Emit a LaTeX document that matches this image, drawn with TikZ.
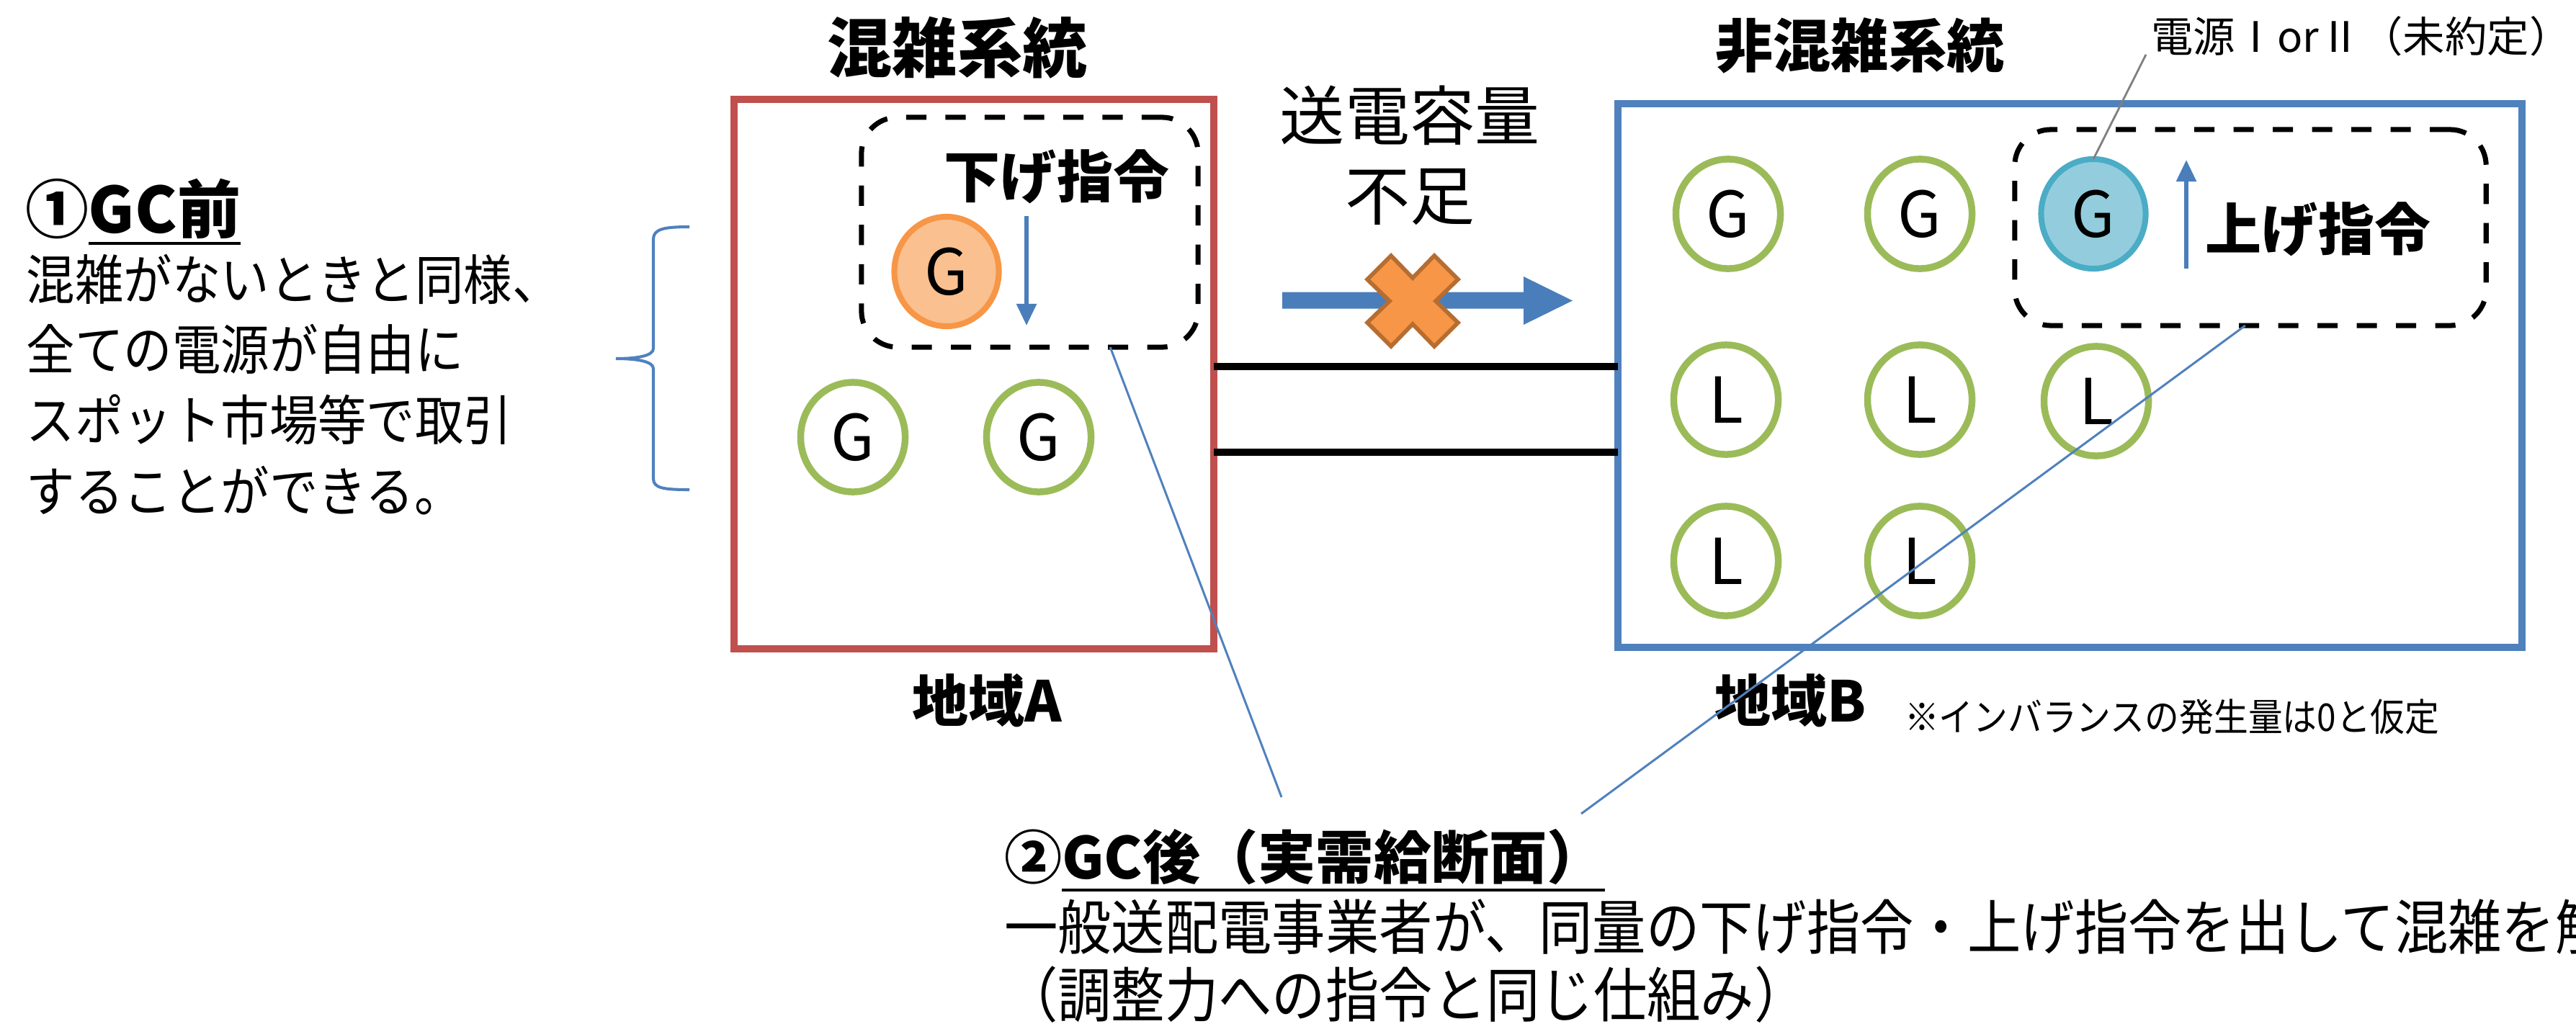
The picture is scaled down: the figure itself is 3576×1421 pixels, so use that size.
\documentclass[tikz,border=0pt]{standalone}
\usepackage{fontspec}
\newfontfamily\jp{Noto Sans CJK JP}
\newfontfamily\jpn{Noto Sans CJK JP}[FakeStretch=0.9]
\usetikzlibrary{shapes.geometric,arrows.meta,calc}
\definecolor{redc}{HTML}{C0504D}
\definecolor{bluec}{HTML}{4F81BD}
\definecolor{arrowc}{HTML}{4A7EBB}
\definecolor{greenc}{HTML}{9BBB59}
\definecolor{orangec}{HTML}{F79646}
\definecolor{orangefill}{HTML}{FAC08F}
\definecolor{cyanc}{HTML}{4BACC6}
\definecolor{cyanfill}{HTML}{93CDDD}
\definecolor{xstroke}{HTML}{B66D31}
\definecolor{grayc}{HTML}{808080}
\newcommand{\fs}[1]{\fontsize{#1}{#1}\selectfont}
\begin{document}
\begin{tikzpicture}[x=0.01cm,y=-0.01cm,
  txt/.style={inner sep=0pt,outer sep=0pt},
  areabox/.style={draw,line width=2.85pt,inner sep=0pt,outer sep=0pt},
  groupbox/.style={draw=black,line width=2pt,dash pattern=on 8pt off 7.5pt,rounded corners=0.5cm,inner sep=0pt,outer sep=0pt},
  ring/.style={ellipse,draw=greenc,fill=white,line width=2.7pt,minimum width=1.45cm,minimum height=1.52cm,inner sep=0pt,outer sep=0pt,font=\jp\fs{25}},
  hot/.style={ring,draw=orangec,fill=orangefill,line width=2.3pt},
  cool/.style={ring,draw=cyanc,fill=cyanfill,line width=2.3pt},
  order/.style={draw=arrowc,line width=1.6pt,-{Triangle[width=0.27cm,length=0.30cm]}},
  title/.style={txt,font=\jp\bfseries\fs{25.6}},
  leader/.style={draw=bluec,line width=0.85pt},
  trans/.style={draw=black,line width=2.85pt}
]
\useasboundingbox (0,0) rectangle (3576,1421);
\clip (0,0) rectangle (3576,1421);

% ---- left explanation ----
\node[txt,anchor=west,font=\jp\bfseries\fs{25}] (h1n) at (35,290) {①};
\node[txt,anchor=west,font=\jp\bfseries\fs{25}] (h1t) at (h1n.east) {GC前};
\draw[line width=1.2pt] ($(h1t.south west)+(0,6)$) -- ($(h1t.south east)+(0,6)$);
\node[txt,anchor=west,font=\jpn\fs{21.3}] (b1) at (37,388) {混雑がないときと同様、};
\node[txt,anchor=west,font=\jpn\fs{21.3}] (b2) at (37,485) {全ての電源が自由に};
\node[txt,anchor=west,font=\jpn\fs{21.3}] (b3) at (37,583) {スポット市場等で取引};
\node[txt,anchor=west,font=\jpn\fs{21.3}] (b4) at (37,681) {することができる。};
\draw[draw=bluec,line width=1.15pt]
  (957,315) .. controls (922,315) and (907,318) .. (907,332) -- (907,484)
  .. controls (907,494) and (885,498) .. (855,498)
  .. controls (885,498) and (907,502) .. (907,512) -- (907,665)
  .. controls (907,678) and (922,680) .. (957,680);

% ---- area boxes ----
\node[areabox,draw=redc,minimum width=6.66cm,minimum height=7.63cm] (boxA) at (1352,519.5) {};
\node[areabox,draw=bluec,minimum width=12.55cm,minimum height=7.55cm] (boxB) at (2873.5,521.5) {};
\node[title] (tA) at (1329,66) {混雑系統};
\node[title,font=\jp\bfseries\fs{22.8}] (tB) at (2582,63) {非混雑系統};
\node[txt,font=\jp\bfseries\fs{22.2}] (lA) at (1370,973) {地域A};
\node[txt,font=\jp\bfseries\fs{22.2}] (lB) at (2486,973) {地域B};
\node[txt,anchor=west,font=\jpn\fs{15.1}] (note) at (2644,995) {※インバランスの発生量は0と仮定};

% ---- transmission lines ----
\coordinate (y1) at (0,509);
\coordinate (y2) at (0,628);
\draw[trans] (boxA.east |- y1) -- (boxB.west |- y1);
\draw[trans] (boxA.east |- y2) -- (boxB.west |- y2);

% ---- capacity shortage ----
\node[txt,font=\jp\fs{25.6}] (cap1) at (1957,160) {送電容量};
\node[txt,font=\jp\fs{25.6}] (cap2) at (1957,273) {不足};
\fill[arrowc] (1780,405.5) -- (2115,405.5) -- (2115,384) -- (2183,417.5) -- (2115,451) -- (2115,428.5) -- (1780,428.5) -- cycle;
\filldraw[fill=orangec,draw=xstroke,line width=1.6pt,shift={(1961,418)}]
  (0,-32) -- (30,-63) -- (63,-30) -- (32,0) -- (63,30) -- (30,63) -- (0,32)
  -- (-30,63) -- (-63,30) -- (-32,0) -- (-63,-30) -- (-30,-63) -- cycle;

% ---- area A contents ----
\node[groupbox,minimum width=4.67cm,minimum height=3.19cm] (dA) at (1429.5,322.5) {};
\node[txt,font=\jp\bfseries\fs{22.2}] (down) at (1467,245) {下げ指令};
\node[hot] (gA0) at (1314,377) {G};
\coordinate (dn1) at (1425,300);
\coordinate (dn2) at (1425,452);
\draw[order] (dn1) -- (dn2);
\node[ring] (gA1) at (1184,607) {G};
\node[ring] (gA2) at (1442,607) {G};

% ---- area B contents ----
\node[groupbox,minimum width=6.54cm,minimum height=2.72cm] (dB) at (3124,316) {};
\node[ring] (gB1) at (2399,297) {G};
\node[ring] (gB2) at (2665,297) {G};
\node[cool] (gB3) at (2906,297) {G};
\coordinate (up1) at (3035,373);
\coordinate (up2) at (3035,222);
\draw[order] (up1) -- (up2);
\node[txt,font=\jp\bfseries\fs{22.2}] (up) at (3218,318) {上げ指令};
\node[ring] (lB1) at (2396,555) {L};
\node[ring] (lB2) at (2665,555) {L};
\node[ring] (lB3) at (2910,557) {L};
\node[ring] (lB4) at (2396,779) {L};
\node[ring] (lB5) at (2665,779) {L};
\node[txt,anchor=west,font=\jp\fs{16.6}] (src) at (2986,50) {電源ⅠorⅡ（未約定）};
\draw[draw=grayc,line width=0.8pt] ($(src.south west)+(-7,-2)$) -- (gB3.north);

% ---- after GC ----
\node[txt,anchor=west,font=\jp\bfseries\fs{22.8}] (h2n) at (1394,1190) {②};
\node[txt,anchor=west,font=\jp\bfseries\fs{22.8}] (h2t) at (h2n.east) {GC後（実需給断面）};
\draw[line width=1.2pt] ($(h2t.south west)+(0,7)$) -- ($(h2t.south east)+(0,7)$);
\node[txt,anchor=west,font=\jpn\fs{23.5}] (c1) at (1394,1287) {一般送配電事業者が、同量の下げ指令・上げ指令を出して混雑を解消};
\node[txt,anchor=west,font=\jpn\fs{23.5}] (c2) at (1394,1381) {（調整力への指令と同じ仕組み）};
\coordinate (ea) at (1779,1107);
\coordinate (eb) at (2195,1130);
\draw[leader] ($(dA.south west)!0.739!(dA.south east)$) -- (ea);
\draw[leader] ($(dB.south west)!0.489!(dB.south east)$) -- (eb);
\end{tikzpicture}
\end{document}
